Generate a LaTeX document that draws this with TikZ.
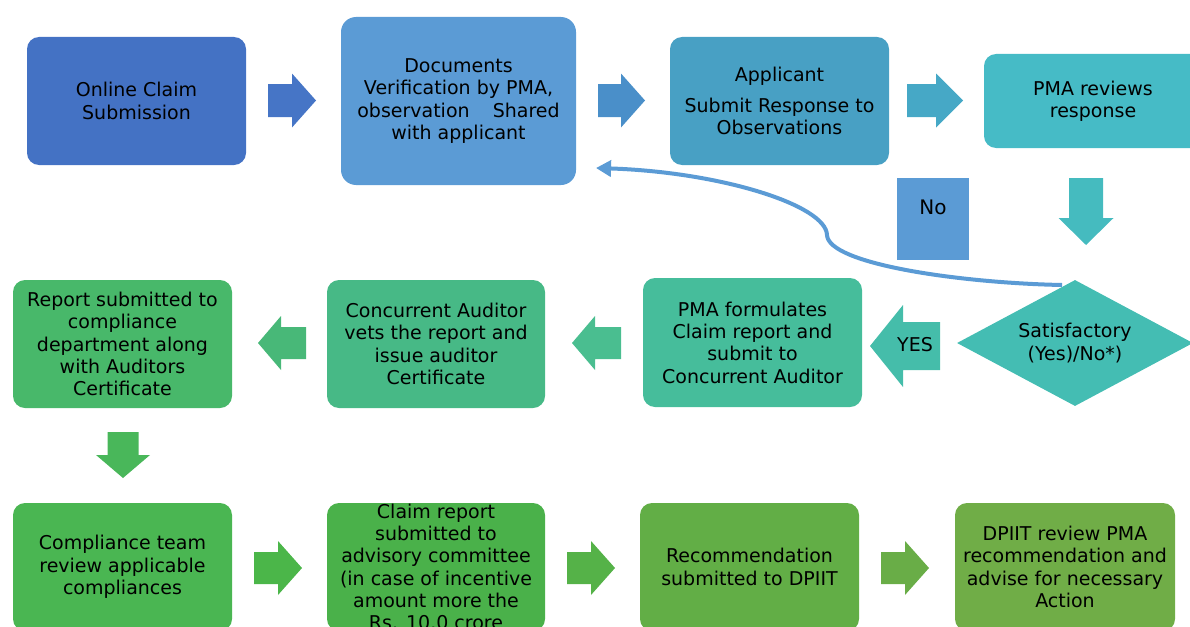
\documentclass[tikz,border=0pt]{standalone}
\usepackage{fontspec}
\setmainfont{DejaVu Sans}
\usetikzlibrary{shapes.geometric,arrows.meta}
\definecolor{cA}{HTML}{4472C4}
\definecolor{cB}{HTML}{5B9BD5}
\definecolor{cC}{HTML}{48A0C4}
\definecolor{cD}{HTML}{46BBC6}
\definecolor{cE}{HTML}{44BDB3}
\definecolor{cF}{HTML}{46BD9B}
\definecolor{cG}{HTML}{47B986}
\definecolor{cH}{HTML}{48B86A}
\definecolor{cI}{HTML}{4AB652}
\definecolor{cJ}{HTML}{4AB14A}
\definecolor{cK}{HTML}{62AE46}
\definecolor{cL}{HTML}{70AD47}
\definecolor{aA}{HTML}{4675C6}
\definecolor{aB}{HTML}{4A8FC9}
\definecolor{aC}{HTML}{46A8C6}
\definecolor{aD}{HTML}{45BBBF}
\definecolor{aE}{HTML}{45BDAA}
\definecolor{aF}{HTML}{4ABE90}
\definecolor{aG}{HTML}{48B878}
\definecolor{aH}{HTML}{49B75A}
\definecolor{aI}{HTML}{4BB649}
\definecolor{aJ}{HTML}{55B248}
\definecolor{aK}{HTML}{69AD47}
% block arrow: #1 colour, #2 x, #3 y (centre), #4 rotation, #5 length, #6 head width, #7 shaft width, #8 head length
\newcommand{\blockarr}[8]{%
  \fill[#1, shift={(#2,#3)}, rotate=#4]
    (-#5/2,-#7/2) -- (#5/2-#8,-#7/2) -- (#5/2-#8,-#6/2) -- (#5/2,0)
    -- (#5/2-#8,#6/2) -- (#5/2-#8,#7/2) -- (-#5/2,#7/2) -- cycle;}
\begin{document}
\begin{tikzpicture}[x=1pt,y=-1pt,
  txt/.style={font=\fontsize{19}{22.3}\selectfont, text=black, align=center},
  box/.style={txt, rounded corners=12pt, inner sep=0pt, draw=none},
]
\useasboundingbox (0,0) rectangle (1190,626);
\clip (0,0) rectangle (1190,626);

% row 1
\node[box, fill=cA, minimum width=219pt, minimum height=128pt] (b1) at (136.5,101) {Online Claim\\Submission};
\node[box, fill=cB, rounded corners=15pt, minimum width=235pt, minimum height=168pt] (b2) at (458.5,101) {Documents\\Verification by PMA,\\observation\hspace{0.9em} Shared\\with applicant};
\node[box, fill=cC, minimum width=219pt, minimum height=128pt] (b3) at (779.5,101) {Applicant\\[8.5pt]Submit Response to\\Observations};
\node[box, fill=cD, minimum width=218pt, minimum height=94pt] (b4) at (1093,101) {PMA reviews\\response};

\blockarr{aA}{292}{100.5}{0}{48}{54}{33}{24}
\blockarr{aB}{621.5}{100.5}{0}{47}{54}{33}{24}
\blockarr{aC}{935}{100.5}{0}{56}{54}{33}{27}
\blockarr{aD}{1086}{211.5}{-90}{67}{55}{34}{27}

% No box
\node[fill=cB, minimum width=72pt, minimum height=82pt, inner sep=0pt] (nobox) at (933,219) {};
\node[txt, font=\fontsize{20}{24}\selectfont] (nolbl) at (933,207) {No};

% diamond
\node[diamond, aspect=1.87, fill=cE, minimum width=236pt, minimum height=126pt, inner sep=0pt, txt] (dia) at (1075,343) {Satisfactory\\(Yes)/No*)};

% return curve
\coordinate (cs) at (1062,285);
\coordinate (cm) at (827,235);
\coordinate (ce) at (596,168);
\draw[line width=4pt, draw=cB, -{Triangle[length=15pt,width=16pt]}]
  (cs) .. controls (960,283) and (828,264) .. (cm)
       .. controls (826,205) and (720,172) .. (ce);

% YES arrow
\blockarr{aE}{905}{346}{180}{70}{82}{48}{33}
\node[txt] (yeslbl) at (915,345) {YES};

% row 2
\node[box, fill=cF, minimum width=219pt, minimum height=129pt] (p1) at (752.5,342.5) {PMA formulates\\Claim report and\\submit to\\Concurrent Auditor};
\node[box, fill=cG, minimum width=218pt, minimum height=128pt] (p2) at (436,344) {Concurrent Auditor\\vets the report and\\issue auditor\\Certificate};
\node[box, fill=cH, minimum width=219pt, minimum height=128pt] (p3) at (122.5,344) {Report submitted to\\compliance\\department along\\with Auditors\\Certificate};

\blockarr{aF}{596.5}{343}{180}{49}{54}{32}{23}
\blockarr{aG}{282}{343}{180}{48}{54}{32}{23}
\blockarr{aH}{123}{455}{-90}{46}{54}{31}{23}

% row 3
\node[box, fill=cI, minimum width=219pt, minimum height=128pt] (q1) at (122.5,567) {Compliance team\\review applicable\\compliances};
\node[box, fill=cJ, minimum width=218pt, minimum height=128pt] (q2) at (436,567) {Claim report\\submitted to\\advisory committee\\(in case of incentive\\amount more the\\Rs. 10.0 crore};
\node[box, fill=cK, minimum width=219pt, minimum height=128pt] (q3) at (749.5,567) {Recommendation\\submitted to DPIIT};
\node[box, fill=cL, minimum width=220pt, minimum height=128pt] (q4) at (1065,567) {DPIIT review PMA\\recommendation and\\advise for necessary\\Action};

\blockarr{aI}{278}{568}{0}{48}{54}{32}{24}
\blockarr{aJ}{591}{568}{0}{48}{54}{32}{24}
\blockarr{aK}{905}{568}{0}{48}{54}{32}{24}
\end{tikzpicture}
\end{document}
